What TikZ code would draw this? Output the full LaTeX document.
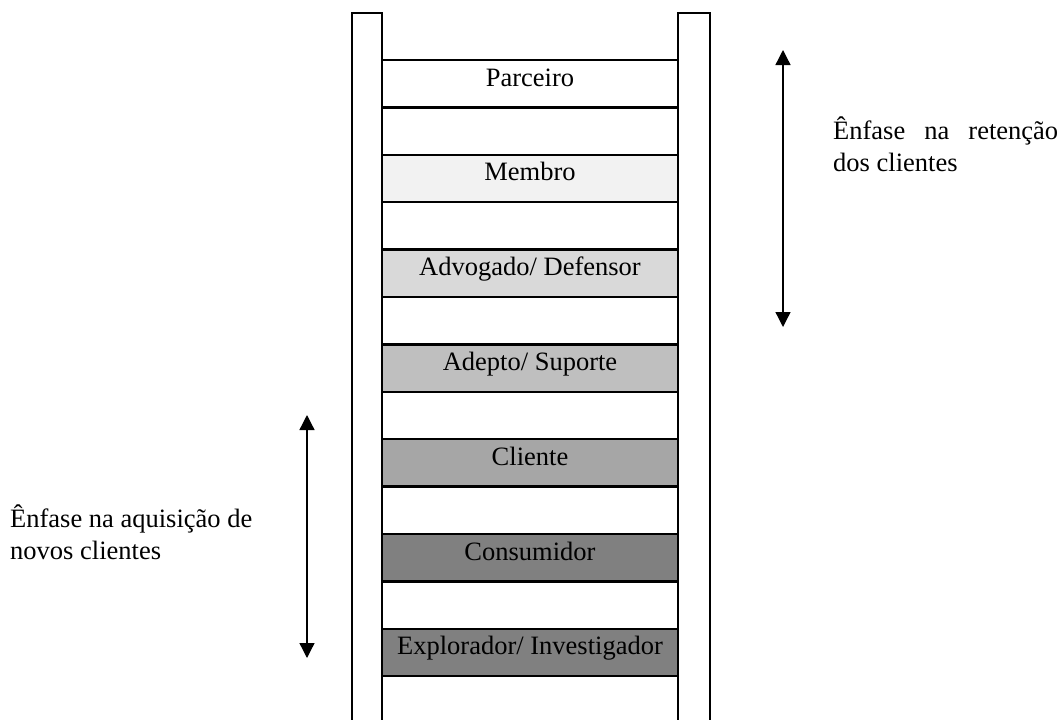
\documentclass[tikz,border=0pt]{standalone}
\usepackage{fontspec}
\setmainfont{Liberation Serif}
\usetikzlibrary{arrows.meta}
\definecolor{cMembro}{HTML}{F2F2F2}
\definecolor{cAdvogado}{HTML}{D9D9D9}
\definecolor{cAdepto}{HTML}{BFBFBF}
\definecolor{cCliente}{HTML}{A6A6A6}
\definecolor{cConsumidor}{HTML}{808080}
\definecolor{cExplorador}{HTML}{808080}
\begin{document}
\begin{tikzpicture}[x=1pt,y=-1pt,
  every node/.style={font=\fontsize{26.5}{32}\selectfont},
  rail/.style={draw=black,line width=2.5pt,line join=miter},
  rungbox/.style={draw=black,line width=2.5pt,minimum width=296pt,minimum height=47.4pt,inner sep=0pt,outer sep=0pt},
  rungtext/.style={anchor=base,yshift=-26pt,inner sep=0pt},
  bothway/.style={line width=1.3pt,{Triangle[width=15pt,length=15pt]}-{Triangle[width=15pt,length=15pt]}},
  note/.style={anchor=base west,inner sep=0pt}]
\useasboundingbox (0,0) rectangle (1061,720);
% rungs
\node[rungbox,fill=white] (parceiro) at (530,83.7) {};
\node[rungbox,fill=cMembro] (membro) at (530,178.5) {};
\node[rungbox,fill=cAdvogado] (advogado) at (530,273.3) {};
\node[rungbox,fill=cAdepto] (adepto) at (530,368.1) {};
\node[rungbox,fill=cCliente] (cliente) at (530,462.9) {};
\node[rungbox,fill=cConsumidor] (consumidor) at (530,557.7) {};
\node[rungbox,fill=cExplorador] (explorador) at (530,652.5) {};
\node[rungtext] (tparceiro) at (parceiro.north) {Parceiro};
\node[rungtext] (tmembro) at (membro.north) {Membro};
\node[rungtext] (tadvogado) at (advogado.north) {Advogado/ Defensor};
\node[rungtext] (tadepto) at (adepto.north) {Adepto/ Suporte};
\node[rungtext] (tcliente) at (cliente.north) {Cliente};
\node[rungtext] (tconsumidor) at (consumidor.north) {Consumidor};
\node[rungtext] (texplorador) at (explorador.north) {Explorador/ Investigador};
% rails
\draw[rail] (352,722) -- (352,13) -- (382,13) -- (382,722);
\draw[rail] (678,722) -- (678,13) -- (710,13) -- (710,722);
% arrows
\coordinate (rtop) at (783,50);
\coordinate (rbot) at (783,327);
\draw[bothway] (rtop) -- (rbot);
\coordinate (ltop) at (307,415);
\coordinate (lbot) at (307,658);
\draw[bothway] (ltop) -- (lbot);
% notes
\node[note] (r1) at (833,139) {\hbox to 225pt{Ênfase\hfill na\hfill retenção}};
\node[note] (r2) at (833,171) {dos clientes};
\node[note] (l1) at (10,527) {Ênfase na aquisição de};
\node[note] (l2) at (10,559) {novos clientes};
\end{tikzpicture}
\end{document}
